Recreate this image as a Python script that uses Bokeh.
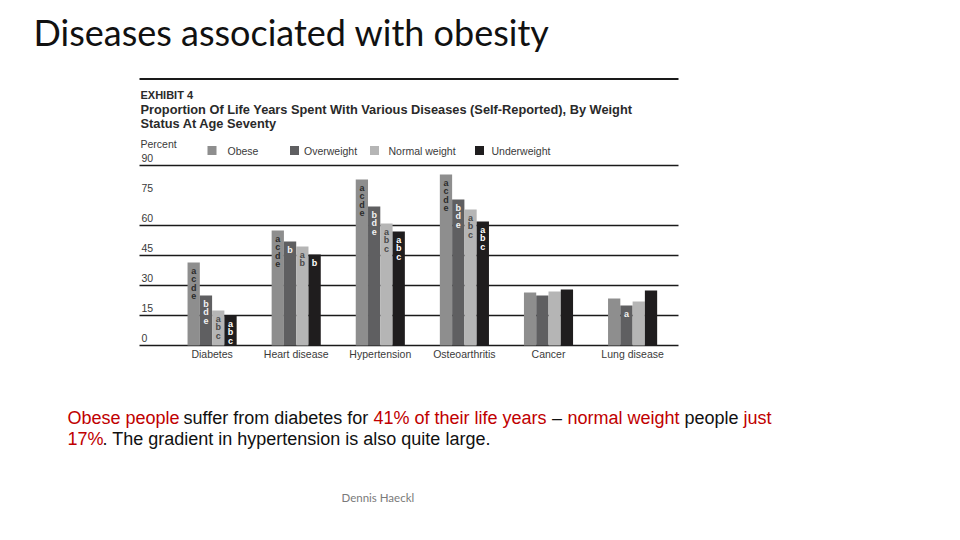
from bokeh.plotting import figure
from bokeh.models import ColumnDataSource, Range1d, Label
from bokeh.transform import dodge
from bokeh.embed import file_html
from bokeh.resources import INLINE
from bokeh.core.properties import value

# ---------------- data ----------------
categories = ["Diabetes", "Heart disease", "Hypertension", "Osteoarthritis", "Cancer", "Lung disease"]
series_names = ["Obese", "Overweight", "Normal weight", "Underweight"]
obese = [41.5, 57.5, 83.0, 85.5, 26.5, 23.5]
overweight = [25.0, 52.0, 69.5, 73.0, 25.0, 20.0]
normal = [17.5, 49.5, 61.0, 68.0, 27.0, 22.0]
underweight = [15.0, 45.5, 57.0, 62.0, 28.0, 27.5]
sig_obese = ["acde", "acde", "acde", "acde", "", ""]
sig_overweight = ["bde", "b", "bde", "bde", "", "a"]
sig_normal = ["abc", "ab", "abc", "abc", "", ""]
sig_underweight = ["abc", "b", "abc", "abc", "", ""]
y_tick_labels = [0, 15, 30, 45, 60, 75, 90]
grid_values = [0, 15, 30, 45, 60, 90]

colors = ["#8e8e8e", "#5f5f61", "#b5b5b5", "#1f1d1e"]
letter_colors = ["#2b2b2b", "#f2f2f2", "#4a4a4a", "#ffffff"]

# ---------------- layout constants (canvas px) ----------------
W, H = 944, 524
CH_X0, CH_X1 = 139, 678        # chart rule / grid extent
ZERO_PX, PX_PER_UNIT = 345, 2.0
GROUP_PX, FIRST_PX = 84.1, 211.6
X_START = (0 - FIRST_PX) / GROUP_PX
X_END = (W - FIRST_PX) / GROUP_PX
Y_TOP = (ZERO_PX - 0) / PX_PER_UNIT
Y_BOTTOM = (ZERO_PX - H) / PX_PER_UNIT
UPP = 1.0 / PX_PER_UNIT
BW = 0.146
LETTER_TOP, LETTER_STEP = 8.0, 8.6


def px2x(px):
    return X_START + px * (X_END - X_START) / W


def px2y(py):
    return Y_TOP - py * UPP


p = figure(width=W, height=H, output_backend="svg", toolbar_location=None,
           x_range=Range1d(X_START, X_END), y_range=Range1d(Y_BOTTOM, Y_TOP),
           x_axis_location=None, y_axis_location=None)
p.min_border = 0
p.min_border_left = 0
p.min_border_right = 0
p.min_border_top = 0
p.min_border_bottom = 0
p.outline_line_color = None
p.background_fill_color = "white"
p.border_fill_color = "white"
p.grid.visible = False

# grid lines (chart width only)
p.segment(x0=[px2x(CH_X0)] * len(grid_values), x1=[px2x(CH_X1)] * len(grid_values),
          y0=grid_values, y1=grid_values, line_color="#1a1a1a", line_width=1.3)

xs = list(range(len(categories)))

# bars
all_vals = [obese, overweight, normal, underweight]
all_sig = [sig_obese, sig_overweight, sig_normal, sig_underweight]
offsets = [-1.5 * BW, -0.5 * BW, 0.5 * BW, 1.5 * BW]
for vals, sig, off, col, lcol in zip(all_vals, all_sig, offsets, colors, letter_colors):
    src = ColumnDataSource(dict(x=xs, top=vals))
    p.vbar(x=dodge("x", off), top="top", width=BW, source=src,
           fill_color=col, line_color=None)
    lx, ly, lt = [], [], []
    for i, (v, s) in enumerate(zip(vals, sig)):
        for k, ch in enumerate(s):
            lx.append(i + off)
            ly.append(v - (LETTER_TOP + LETTER_STEP * k) * UPP)
            lt.append(ch)
    if lt:
        p.text(x=lx, y=ly, text=lt, text_align="center", text_baseline="middle",
               text_font=value("Liberation Sans"), text_font_style="bold",
               text_font_size="9px", text_color=lcol)

# category labels
p.text(x=xs, y=[px2y(353.5)] * len(xs), text=categories, text_align="center",
       text_baseline="middle", text_font=value("Liberation Sans"),
       text_font_size="10.5px", text_color="#3a3a3a")

# top rule of exhibit
p.segment(x0=[px2x(CH_X0)], x1=[px2x(CH_X1)], y0=[px2y(78.5)], y1=[px2y(78.5)],
          line_color="#1a1a1a", line_width=2.2)

labels = []


def add_label(text, px, py, size, color="#333333", font="Liberation Sans", style="normal",
              align="left", baseline="middle"):
    labels.append(Label(x=px2x(px), y=px2y(py), text=text, text_font=font,
                        text_font_size=f"{size}px", text_color=color, text_font_style=style,
                        text_align=align, text_baseline=baseline))


add_label("EXHIBIT 4", 140, 94.5, 11, "#2a2a2a", style="bold")
add_label("Proportion Of Life Years Spent With Various Diseases (Self-Reported), By Weight",
          140, 108.5, 12.8, "#2a2a2a", style="bold")
add_label("Status At Age Seventy", 140, 123, 12.8, "#2a2a2a", style="bold")
add_label("Percent", 140, 143.5, 10.5, "#3a3a3a")

# y tick labels (above the lines, inside the chart)
for t in y_tick_labels:
    labels.append(Label(x=px2x(141), y=t + 7.5 * UPP, text=str(t),
                        text_font="Liberation Sans", text_font_size="10.5px",
                        text_color="#3a3a3a", text_align="left", text_baseline="middle"))

# legend
leg_sq_px = [211.5, 294, 374, 479]
leg_lab_px = [227, 303.5, 388, 491]
p.scatter(x=[px2x(v) for v in leg_sq_px], y=[px2y(150)] * 4, marker="square", size=9,
          fill_color=colors, line_color=None)
for name, lp in zip(series_names, leg_lab_px):
    add_label(name, lp, 150, 10.5, "#3a3a3a")

# slide title
add_label("Diseases associated with obesity", 33, 31, 36, "#111111", font="Lato")

# caption
RED, BLK = "#c00000", "#111111"
cap1 = [("Obese people", 67, RED), ("suffer from diabetes for", 183, BLK),
        ("41% of their life years", 373, RED), ("\u2013", 551.5, BLK),
        ("normal weight", 567, RED), ("people", 684, BLK), ("just", 743, RED)]
cap2 = [("17%", 67, RED), (". The gradient in hypertension is also quite large.", 102, BLK)]
for txt, x0, c in cap1:
    add_label(txt, x0, 417, 18, c)
for txt, x0, c in cap2:
    add_label(txt, x0, 438.5, 18, c)

# footer
add_label("Dennis Haeckl", 341, 497, 11.5, "#7a7a7a", font="Lato")

for lb in labels:
    p.add_layout(lb)

open("out.html", "w").write(file_html(p, INLINE))
